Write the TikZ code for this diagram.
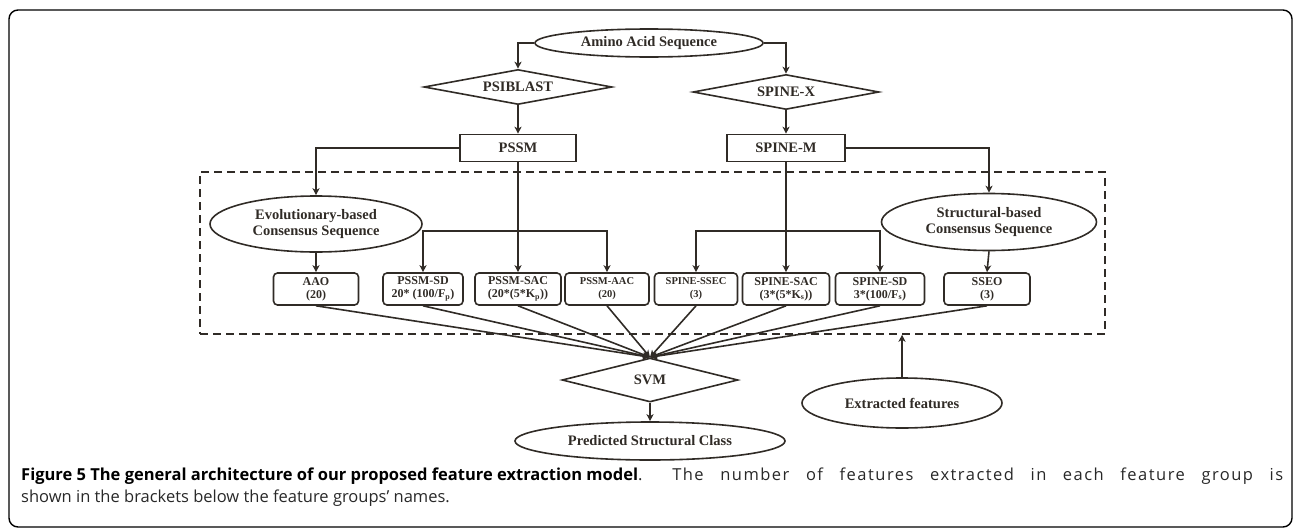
\documentclass[tikz,border=0pt]{standalone}
\usepackage{fontspec}
\setmainfont{Liberation Serif}
\newfontfamily\capfont{Open Sans}
\newfontfamily\capfontwide{Open Sans}[LetterSpace=9]
\usetikzlibrary{shapes.geometric,arrows.meta,positioning}
\definecolor{inkdark}{RGB}{48,43,38}
\definecolor{captext}{RGB}{40,40,40}

\tikzset{
  flow/.style={draw=inkdark, line width=1.6pt, text=inkdark, font=\bfseries\fontsize{14.5}{15.5}\selectfont},
  oval/.style={flow, ellipse, inner sep=0pt},
  decision/.style={flow, diamond, inner sep=0pt, shape aspect=5},
  procbox/.style={flow, rectangle, inner sep=0pt},
  featbox/.style={flow, rectangle, rounded corners=4pt, inner sep=0pt, minimum height=32pt, align=center, font=\bfseries\fontsize{12}{13}\selectfont},
  arr/.style={draw=inkdark, line width=1.6pt, -{Stealth[length=7pt,width=7pt,inset=2pt]}},
}

\begin{document}
\begin{tikzpicture}[x=1pt,y=-1pt]
\useasboundingbox (0,0) rectangle (1295,530);
% outer frame
\draw[line width=1.4pt, rounded corners=9pt] (9,10) rectangle (1292,527);

% feature extraction area
\node[draw=inkdark, dash pattern=on 8pt off 5pt, line width=1.5pt, minimum width=905pt, minimum height=162pt, inner sep=0pt] (featarea) at (652.5,253) {};

% sequence and profiles
\node[oval, minimum width=228pt, minimum height=28pt] (amino) at (649,43) {Amino Acid Sequence};
\node[decision, minimum width=188pt, minimum height=35pt] (psiblast) at (518,87) {PSIBLAST};
\node[decision, minimum width=186pt, minimum height=35pt] (spinex) at (786,92) {SPINE-X};
\node[procbox, minimum width=116pt, minimum height=27pt] (pssm) at (518,148) {PSSM};
\node[procbox, minimum width=118pt, minimum height=27pt] (spinem) at (786,148) {SPINE-M};

% consensus sequences
\node[oval, align=center, minimum width=212pt, minimum height=56pt] (evocons) at (316,224) {Evolutionary-based\\Consensus Sequence};
\node[oval, align=center, minimum width=215pt, minimum height=57pt] (strcons) at (989,222) {Structural-based\\Consensus Sequence};

% feature groups
\node[featbox, minimum width=85pt] (aao) at (316,289) {AAO\\(20)};
\node[featbox, minimum width=80pt] (pssmsd) at (423,289) {PSSM-SD\\20* (100/F\textsubscript{p})};
\node[featbox, minimum width=86pt] (pssmsac) at (518,289) {PSSM-SAC\\(20*(5*K\textsubscript{p}))};
\node[featbox, minimum width=84pt, font=\bfseries\fontsize{10.5}{13}\selectfont] (pssmaac) at (607,289) {PSSM-AAC\\(20)};
\node[featbox, minimum width=83pt, font=\bfseries\fontsize{10.5}{13}\selectfont] (spinessec) at (696,289) {SPINE-SSEC\\(3)};
\node[featbox, minimum width=87pt] (spinesac) at (786,289) {SPINE-SAC\\(3*(5*K\textsubscript{s}))};
\node[featbox, minimum width=89pt] (spinesd) at (880,289) {SPINE-SD\\3*(100/F\textsubscript{s})};
\node[featbox, minimum width=86pt] (sseo) at (987,289) {SSEO\\(3)};

% classifier
\node[decision, minimum width=176pt, minimum height=44pt] (svm) at (650,380) {SVM};
\node[oval, minimum width=270pt, minimum height=38pt] (predclass) at (650,441) {Predicted Structural Class};
\node[oval, minimum width=200pt, minimum height=50pt] (extracted) at (902,403) {Extracted features};

% connectors
\draw[arr] (amino.west) -| (psiblast.north);
\draw[arr] (amino.east) -| (spinex.north);
\draw[arr] (psiblast.south) -- (pssm.north);
\draw[arr] (spinex.south) -- (spinem.north);
\draw[arr] (pssm.west) -| (evocons.north);
\draw[arr] (spinem.east) -| (strcons.north);
\draw[arr] (evocons.south) -- (aao.north);
\draw[arr] (strcons.south) -- (sseo.north);

\draw[arr] (pssm.south) -- (pssmsac.north);
\coordinate (pssmfork) at (518,231);
\draw[arr] (pssmfork) -| (pssmsd.north);
\draw[arr] (pssmfork) -| (pssmaac.north);

\draw[arr] (spinem.south) -- (spinesac.north);
\coordinate (spinefork) at (786,231);
\draw[arr] (spinefork) -| (spinessec.north);
\draw[arr] (spinefork) -| (spinesd.north);

\foreach \grp in {aao,pssmsd,pssmsac,pssmaac,spinessec,spinesac,spinesd,sseo}
  \draw[arr] (\grp.south) -- (svm.north);
\draw[arr] (svm.south) -- (predclass.north);
\draw[arr] (extracted.north) -- (extracted.north |- featarea.south);

% caption
\node[anchor=north west, inner sep=0pt, text width=1262pt, align=justify, text=captext, font=\capfont\fontsize{16.5}{22}\selectfont] (caption) at (21,468) {\mbox{\textbf{\color{black}Figure 5 The general architecture of our proposed feature extraction model}}. {\capfontwide The number of features extracted in each feature group is}\linebreak shown in the brackets below the feature groups’ names.};
\end{tikzpicture}
\end{document}
